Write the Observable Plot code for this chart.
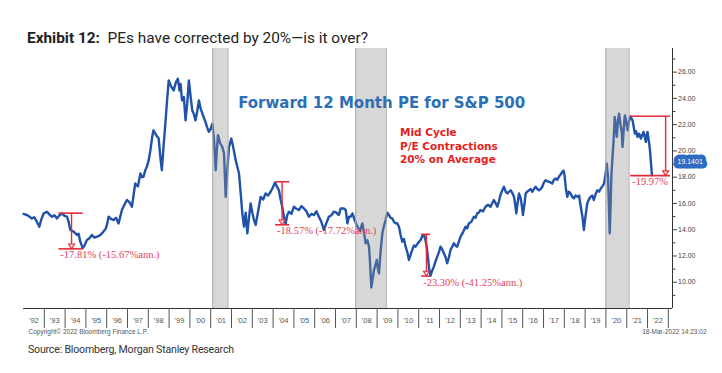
<!DOCTYPE html>
<html><head><meta charset="utf-8">
<script src="https://cdn.jsdelivr.net/npm/d3@7"></script>
<script src="https://cdn.jsdelivr.net/npm/@observablehq/plot@0.6"></script>
<style>
body{margin:0;background:#fff;}
#wrap{position:relative;width:722px;height:373px;overflow:hidden;font-family:Roboto,sans-serif;}
#title{position:absolute;left:27px;top:29px;font-size:15.4px;line-height:18px;color:#222;white-space:pre;}
#chart{position:absolute;left:0;top:44px;}
#source{position:absolute;left:28px;top:343px;font-size:10.6px;letter-spacing:-0.2px;line-height:14px;color:#333;white-space:pre;}
</style></head><body>
<div id="wrap">
<div id="title"><b>Exhibit 12:</b>  PEs have corrected by 20%—is it over?</div>
<div id="chart"></div>
<div id="source">Source: Bloomberg, Morgan Stanley Research</div>
</div>
<script>
const years = [1992.0,1992.16,1992.28,1992.40,1992.52,1992.64,1992.76,1992.86,1992.97,1993.13,1993.25,1993.37,1993.49,1993.61,1993.73,1993.85,1993.97,1994.09,1994.17,1994.25,1994.41,1994.57,1994.65,1994.73,1994.85,1994.92,1995.05,1995.17,1995.29,1995.41,1995.53,1995.65,1995.77,1995.96,1996.03,1996.09,1996.21,1996.33,1996.45,1996.57,1996.73,1996.85,1996.97,1997.09,1997.21,1997.29,1997.37,1997.50,1997.62,1997.70,1997.77,1997.85,1997.93,1998.02,1998.10,1998.18,1998.25,1998.38,1998.50,1998.58,1998.65,1998.74,1998.82,1998.90,1998.98,1999.10,1999.22,1999.32,1999.42,1999.50,1999.55,1999.62,1999.71,1999.79,1999.87,1999.95,2000.03,2000.11,2000.19,2000.27,2000.35,2000.43,2000.52,2000.60,2000.68,2000.75,2000.83,2000.91,2001.0,2001.08,2001.16,2001.24,2001.30,2001.35,2001.45,2001.56,2001.64,2001.72,2001.80,2001.88,2001.99,2002.08,2002.20,2002.28,2002.36,2002.44,2002.52,2002.60,2002.68,2002.76,2002.84,2002.92,2003.0,2003.08,2003.16,2003.28,2003.40,2003.52,2003.64,2003.76,2003.88,2003.98,2004.09,2004.18,2004.28,2004.36,2004.44,2004.52,2004.60,2004.68,2004.76,2004.88,2005.0,2005.12,2005.24,2005.36,2005.48,2005.60,2005.72,2005.84,2005.96,2006.08,2006.20,2006.32,2006.44,2006.56,2006.68,2006.80,2006.92,2007.04,2007.16,2007.25,2007.40,2007.49,2007.57,2007.65,2007.73,2007.81,2007.93,2008.05,2008.17,2008.29,2008.37,2008.45,2008.53,2008.61,2008.66,2008.72,2008.79,2008.85,2008.92,2008.98,2009.04,2009.09,2009.17,2009.25,2009.33,2009.41,2009.49,2009.57,2009.65,2009.73,2009.81,2009.89,2009.97,2010.05,2010.13,2010.21,2010.29,2010.37,2010.45,2010.53,2010.61,2010.69,2010.77,2010.85,2010.97,2011.09,2011.17,2011.25,2011.33,2011.40,2011.44,2011.50,2011.57,2011.65,2011.73,2011.81,2011.89,2011.97,2012.05,2012.13,2012.21,2012.29,2012.37,2012.45,2012.53,2012.61,2012.69,2012.77,2012.85,2012.93,2013.01,2013.13,2013.25,2013.33,2013.41,2013.53,2013.65,2013.73,2013.81,2013.89,2013.97,2014.09,2014.21,2014.33,2014.45,2014.53,2014.61,2014.70,2014.78,2014.86,2014.94,2015.02,2015.10,2015.18,2015.26,2015.34,2015.42,2015.50,2015.58,2015.64,2015.69,2015.75,2015.82,2015.90,2015.96,2016.01,2016.08,2016.14,2016.22,2016.30,2016.38,2016.46,2016.54,2016.62,2016.70,2016.78,2016.86,2016.94,2017.02,2017.10,2017.18,2017.26,2017.34,2017.42,2017.50,2017.58,2017.66,2017.74,2017.82,2017.90,2017.96,2018.01,2018.07,2018.14,2018.22,2018.30,2018.38,2018.46,2018.54,2018.63,2018.71,2018.79,2018.87,2018.94,2019.00,2019.10,2019.18,2019.26,2019.34,2019.42,2019.50,2019.59,2019.67,2019.75,2019.83,2019.91,2019.98,2020.04,2020.10,2020.14,2020.18,2020.22,2020.26,2020.31,2020.36,2020.40,2020.42,2020.47,2020.52,2020.58,2020.63,2020.70,2020.76,2020.80,2020.86,2020.91,2020.97,2021.04,2021.10,2021.17,2021.22,2021.28,2021.34,2021.39,2021.45,2021.52,2021.60,2021.68,2021.74,2021.81,2021.87,2021.92,2021.96,2022.00,2022.05,2022.08,2022.12,2022.16,2022.19,2022.21];
const pe = [15.2,15.12,15.0,14.86,14.95,14.61,14.23,14.8,15.24,15.37,15.15,14.99,15.1,14.86,15.1,15.24,15.05,14.99,14.6,13.98,13.85,13.6,13.7,13.09,12.6,12.75,13.22,13.35,13.6,13.4,13.47,13.55,13.72,14.1,14.5,14.99,14.8,14.74,14.9,14.48,15.5,15.9,16.26,16.1,15.75,16.6,17.52,17.3,18.28,18.0,18.03,18.5,18.79,19.3,20.05,21.0,21.57,21.2,20.94,19.5,18.53,20.5,22.08,23.8,25.37,24.9,24.61,25.2,25.5,24.6,25.1,23.85,24.1,22.33,23.6,25.37,24.2,23.1,22.8,22.33,23.0,23.85,23.2,22.84,22.5,22.2,21.8,21.45,21.7,22.08,20.8,18.53,20.2,21.2,20.6,20.3,19.8,16.5,18.6,20.3,20.94,20.3,19.3,18.8,18.28,16.8,15.24,14.23,15.3,13.72,14.9,16.0,15.3,14.74,14.36,15.4,16.5,16.3,16.76,16.6,16.89,17.2,17.6,17.3,17.0,16.3,15.75,15.0,14.45,15.1,15.37,15.2,15.75,15.6,15.5,15.8,15.62,15.4,14.99,15.2,15.12,15.4,14.99,14.6,13.98,14.5,14.99,15.1,15.37,15.3,15.12,15.62,15.62,15.5,14.48,14.99,14.99,15.24,14.7,14.23,13.9,14.48,13.8,12.97,13.2,12.71,11.5,9.6,10.3,10.94,11.3,11.7,11.0,10.68,12.4,13.72,14.3,14.74,15.3,15.12,14.9,14.86,14.6,14.48,14.5,14.23,13.6,13.09,13.3,12.71,12.3,11.7,12.1,12.46,12.8,12.71,13.0,13.22,13.5,13.6,13.2,12.5,11.95,11.0,10.5,10.9,11.19,11.6,11.95,12.3,12.71,12.5,12.21,11.9,11.45,11.9,12.46,12.7,12.97,12.8,12.71,13.1,13.47,13.8,14.23,14.1,14.48,14.6,14.99,14.9,15.24,15.3,15.5,15.4,15.75,15.9,15.75,16.0,16.26,16.0,15.75,16.2,16.7,17.0,17.27,16.9,16.76,16.9,17.0,16.8,16.5,15.9,15.24,16.0,16.76,16.4,15.8,15.12,15.9,16.76,16.9,17.0,17.1,16.89,17.1,17.27,17.1,17.0,17.1,17.27,17.6,17.77,17.7,17.65,17.6,17.52,17.8,17.9,17.8,18.03,18.2,18.41,18.5,18.15,17.2,16.5,16.9,16.76,16.5,16.38,16.6,16.5,16.6,15.75,15.0,13.98,14.8,16.0,16.3,16.5,16.6,16.26,16.7,17.0,16.9,17.14,17.3,17.52,18.2,19.04,18.0,16.0,13.72,15.6,18.03,19.4,20.56,21.8,22.58,22.0,21.07,22.3,22.84,22.0,21.4,20.3,21.8,22.71,22.3,21.57,22.2,22.64,22.5,22.33,21.8,21.32,21.5,21.07,21.3,20.94,21.2,21.45,21.0,20.69,21.2,21.45,20.9,20.56,20.0,19.17,18.6,18.15];
const lastValue = 19.1401;

const recessionStart = [2001.10, 2007.97, 2020.00];
const recessionEnd = [2001.83, 2009.44, 2021.11];

const ddStart = [1993.70, 2004.12, 2011.14, 2021.19];
const ddEnd = [1994.87, 2004.80, 2011.57, 2023.10];
const ddMid = [1994.31, 2004.43, 2011.37, 2022.87];
const ddPeak = [15.26, 17.65, 13.65, 22.64];
const ddPct = [17.81, 18.57, 23.30, 19.97];
const ddLabels = ["-17.81% (-15.67%ann.)", "-18.57% (-17.72%ann.)", "-23.30% (-41.25%ann.)", "-19.97%"];

const yearTicks = [1993,1994,1995,1996,1997,1998,1999,2000,2001,2002,2003,2004,2005,2006,2007,2008,2009,2010,2011,2012,2013,2014,2015,2016,2017,2018,2019,2020,2021,2022,2023];
const yearLabels = ["'92","'93","'94","'95","'96","'97","'98","'99","'00","'01","'02","'03","'04","'05","'06","'07","'08","'09","'10","'11","'12","'13","'14","'15","'16","'17","'18","'19","'20","'21","'22"];
const yTicks = [10,12,14,16,18,20,22,24,26];
const yMinorTicks = [9,11,13,15,17,19,21,23,25,27];

const chartTitle = "Forward 12 Month PE for S&P 500";
const noteText = "Mid Cycle\nP/E Contractions\n20% on Average";
const copyright = "Copyright\u00a9 2022 Bloomberg Finance L.P.";
const stamp = "18-Mar-2022 14:23:02";

const series = years.map((t, i) => ({t, v: pe[i]}));
const bands = recessionStart.map((s, i) => ({s, e: recessionEnd[i]}));
const dd = ddPeak.map((p, i) => ({x1: ddStart[i], x2: ddEnd[i], xm: ddMid[i], peak: p, trough: p * (1 - ddPct[i] / 100), label: ddLabels[i]}));
const midYears = yearLabels.map((l, i) => 1992.5 + i);

const xDomain = [1992, 2023.2];
const yDomain = [8, 27.8];
const red = "#e52b3b";
const redText = "#e5405a";

// downward-pointing triangle, tip at the anchor point
const downTriangle = {
  draw(context, size) {
    const r = Math.sqrt(size / Math.PI);
    context.moveTo(0, 0);
    context.lineTo(-r, -1.6 * r);
    context.lineTo(r, -1.6 * r);
    context.closePath();
  }
};

const plot = Plot.plot({
  width: 722, height: 296,
  marginTop: 4, marginBottom: 32, marginLeft: 23, marginRight: 50,
  x: {domain: xDomain},
  y: {domain: yDomain},
  style: {background: "transparent", fontFamily: "Liberation Sans, sans-serif", overflow: "visible"},
  marks: [
    Plot.line(series, {x: "t", y: "v", stroke: "#1f52a8", strokeWidth: 2.4, strokeLinejoin: "round"}),
    Plot.rect(bands, {x1: "s", x2: "e", fill: "#8f8f8f", fillOpacity: 0.36}),
    Plot.ruleX(bands, {x: "s", stroke: "#a8a8a8", strokeWidth: 1}),
    Plot.ruleX(bands, {x: "e", stroke: "#a8a8a8", strokeWidth: 1}),
    Plot.ruleY(dd, {y: "peak", x1: "x1", x2: "x2", stroke: red, strokeWidth: 1.6}),
    Plot.ruleY(dd, {y: "trough", x1: "x1", x2: "x2", stroke: red, strokeWidth: 1.6}),
    Plot.ruleX(dd, {x: "xm", y1: "peak", y2: "trough", stroke: red, strokeWidth: 1.4}),
    Plot.dot(dd, {x: "xm", y: "trough", symbol: downTriangle, r: 3, fill: "#fbe3e6", stroke: red, strokeWidth: 1.1}),
    Plot.text(dd, {x: "x1", y: "trough", text: "label", fill: redText, fontSize: 10.5, fontFamily: "Liberation Serif", textAnchor: "start", lineAnchor: "top", dx: 1.5, dy: 2}),
    Plot.text([chartTitle], {x: () => 2009.22, y: () => 23.63, text: d => d, fill: "#2c6fb7", fontSize: 15, fontWeight: "bold", fontFamily: "DejaVu Sans"}),
    Plot.text([noteText], {x: () => 2010.1, y: () => 20.43, text: d => d, fill: "#e41e1e", fontSize: 10.5, fontWeight: "bold", fontFamily: "DejaVu Sans", textAnchor: "start", lineHeight: 1.27}),
    Plot.ruleY([yDomain[0]], {stroke: "#333", strokeWidth: 1}),
    Plot.ruleX([xDomain[1]], {stroke: "#333", strokeWidth: 1}),
    Plot.axisX(yearTicks, {tickSize: 20, tickFormat: () => "", stroke: "#555", label: null}),
    Plot.axisX(midYears, {tickSize: 0, tickPadding: 9, tickFormat: d => yearLabels[Math.round(d - 1992.5)], fontSize: 7.5, fill: "#555", label: null}),
    Plot.axisY(yTicks, {anchor: "right", tickSize: 4, tickPadding: 1.5, tickFormat: d => d.toFixed(2), fontSize: 7, fill: "#444", stroke: "#444", label: null}),
    Plot.axisY(yMinorTicks, {anchor: "right", tickSize: 2.5, tickFormat: () => "", stroke: "#444", label: null}),
    Plot.text([lastValue], {x: () => xDomain[1], y: d => d, text: d => d.toFixed(4), textAnchor: "start", dx: 5, fill: "white", stroke: "#2f6bc0", strokeWidth: 9, strokeLinejoin: "round", fontSize: 7}),
    Plot.text([copyright], {frameAnchor: "bottom-left", text: d => d, dx: 5, dy: 25, fontSize: 6.5, fill: "#555", textAnchor: "start"}),
    Plot.text([stamp], {frameAnchor: "bottom-right", text: d => d, dx: 34, dy: 25, fontSize: 6.5, fill: "#555", textAnchor: "end"})
  ]
});
document.getElementById("chart").appendChild(plot);
</script>
</body></html>
